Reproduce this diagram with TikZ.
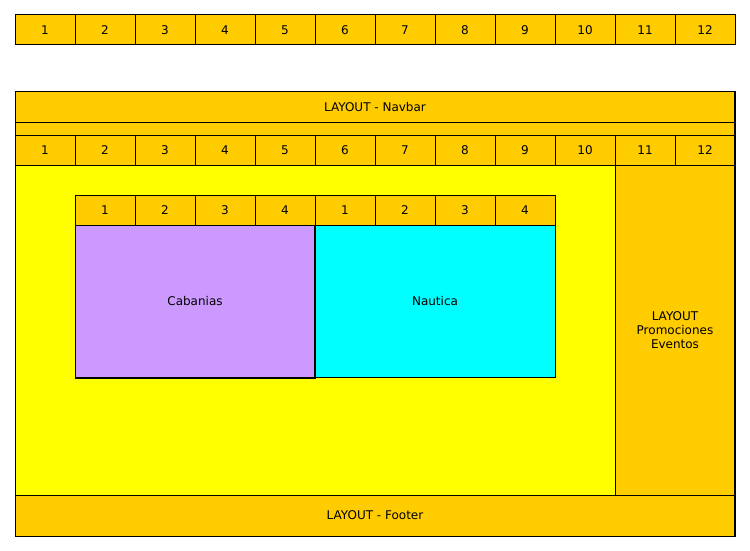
\documentclass[tikz,border=0pt]{standalone}
\usepackage{fontspec}
\setmainfont{DejaVu Sans}
\definecolor{gold}{HTML}{FFCC00}
\definecolor{yel}{HTML}{FFFF00}
\definecolor{lav}{HTML}{CC99FF}
\definecolor{cya}{HTML}{00FFFF}
\begin{document}
\begin{tikzpicture}[x=1pt,y=-1pt,
  box/.style={draw=black,line width=1pt,rectangle,inner sep=0pt,outer sep=0pt,anchor=north west,
    font=\fontsize{12}{14}\selectfont,align=center},
  cell/.style={box,fill=gold,minimum width=60pt,minimum height=30pt},
  thickedge/.style={draw=black,line width=2pt}]
\useasboundingbox (0,0) rectangle (750,551);
% top grid
\foreach \i in {1,...,12}{
  \node[cell] (t\i) at ({15+60*(\i-1)},15) {\i};
}
% layout
\node[box,fill=gold,minimum width=720pt,minimum height=30pt] (navbar) at (15,92) {LAYOUT - Navbar};
\node[box,fill=gold,minimum width=720pt,minimum height=13pt] (strip) at (15,122) {};
\foreach \i in {1,...,12}{
  \node[cell] (g\i) at ({15+60*(\i-1)},135) {\i};
}
\node[box,fill=yel,minimum width=600pt,minimum height=330pt] (main) at (15,165) {};
\node[box,fill=gold,minimum width=120pt,minimum height=330pt] (side) at (615,165) {LAYOUT\\Promociones\\Eventos};
\node[box,fill=gold,minimum width=720pt,minimum height=41pt] (footer) at (15,495) {LAYOUT - Footer};
\draw[thickedge] (navbar.north east) -- (footer.south east);
% inner grid
\foreach \i in {1,...,4}{
  \node[cell] (a\i) at ({75+60*(\i-1)},195) {\i};
  \node[cell] (b\i) at ({315+60*(\i-1)},195) {\i};
}
\node[box,fill=lav,minimum width=240pt,minimum height=153pt] (cab) at (75,225) {Cabanias};
\node[box,fill=cya,minimum width=240pt,minimum height=152pt] (nau) at (315,225) {Nautica};
\draw[line width=1.6pt] (cab.south west) -- (cab.south east) -- (cab.north east);
\end{tikzpicture}
\end{document}
